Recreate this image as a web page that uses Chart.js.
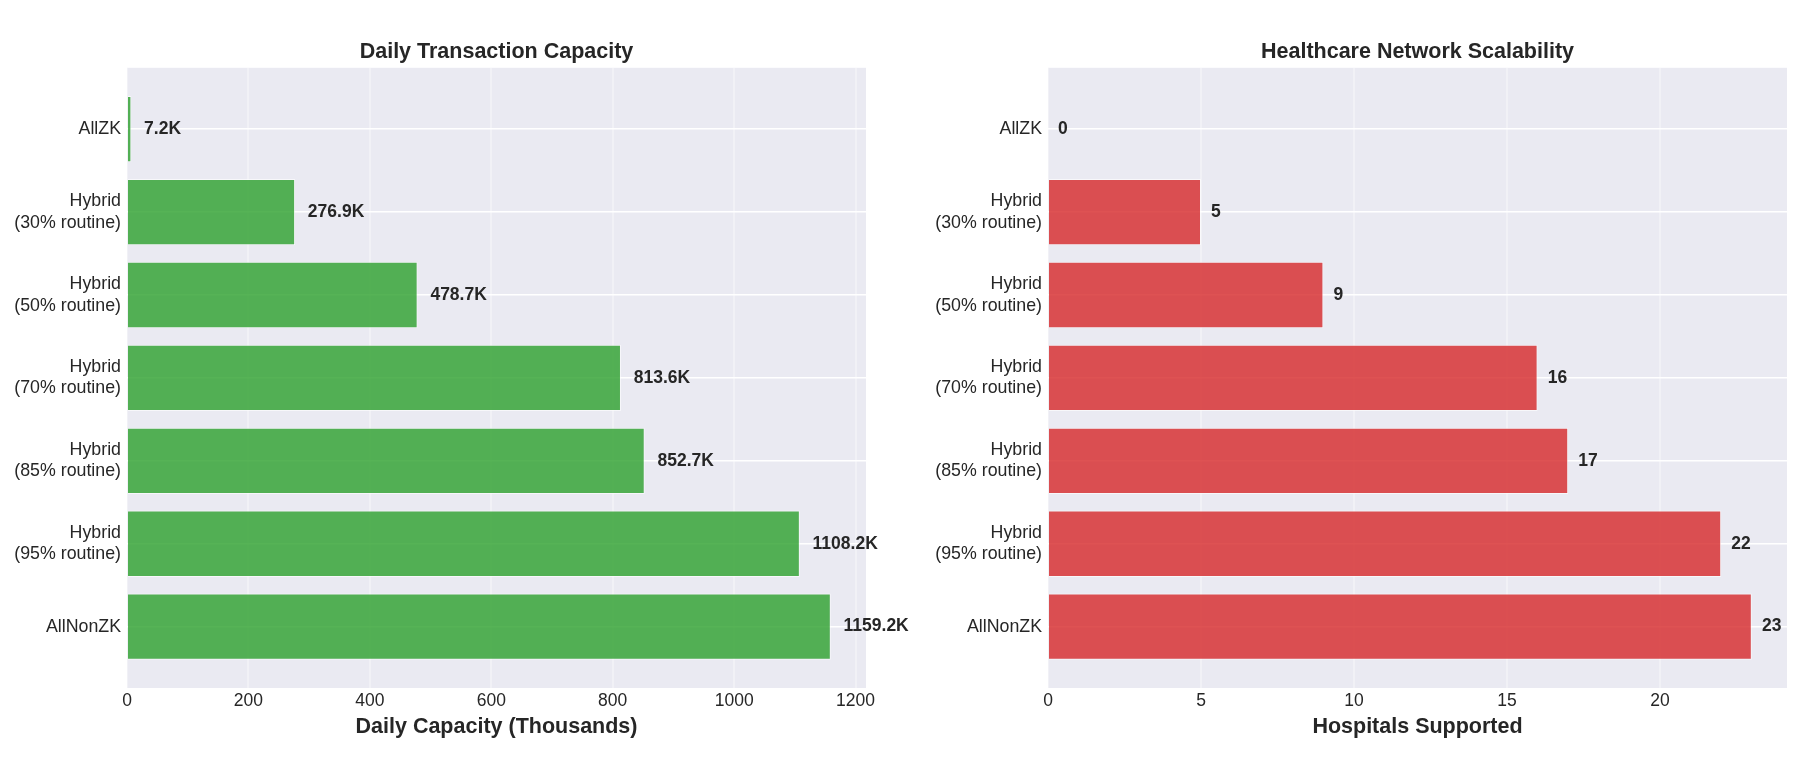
<!DOCTYPE html>
<html>
<head>
<meta charset="utf-8">
<script src="https://cdn.jsdelivr.net/npm/chart.js@4"></script>
<style>
  html, body { margin: 0; padding: 0; background: #fff; overflow: hidden; }
  #wrap { position: relative; width: 1808px; height: 758px; overflow: hidden; }
  .box { position: absolute; top: 0; height: 758px; }
</style>
</head>
<body>
<div id="wrap">
  <div class="box" style="left:0; width:993px"><canvas id="left"></canvas></div>
  <div class="box" style="left:904px; width:1027px"><canvas id="right"></canvas></div>
</div>
<script>
var categories = ["AllZK", "Hybrid\n(30% routine)", "Hybrid\n(50% routine)", "Hybrid\n(70% routine)",
                  "Hybrid\n(85% routine)", "Hybrid\n(95% routine)", "AllNonZK"];
var capacity = [7.2, 276.9, 478.7, 813.6, 852.7, 1108.2, 1159.2];
var hospitals = [0, 5, 9, 16, 17, 22, 23];
var capacityTicks = [0, 200, 400, 600, 800, 1000, 1200];
var hospitalTicks = [0, 5, 10, 15, 20];

var FONT = "'Liberation Sans', Arial, sans-serif";
var TEXT = "#262626";

// grey plot background like seaborn darkgrid
var bgPlugin = {
  id: "bg",
  beforeDraw: function (chart) {
    var a = chart.chartArea, ctx = chart.ctx;
    ctx.save();
    ctx.fillStyle = "#eaeaf2";
    ctx.fillRect(a.left, a.top, a.right - a.left, a.bottom - a.top);
    ctx.restore();
  }
};

// value text to the right of each bar
var valuePlugin = {
  id: "values",
  afterDatasetsDraw: function (chart, args, opts) {
    var ctx = chart.ctx;
    var xs = chart.scales.x;
    var meta = chart.getDatasetMeta(0);
    var vals = chart.data.datasets[0].data;
    ctx.save();
    ctx.font = "bold 17.5px " + FONT;
    ctx.fillStyle = TEXT;
    ctx.textAlign = "left";
    ctx.textBaseline = "middle";
    meta.data.forEach(function (bar, i) {
      var v = vals[i].x;
      ctx.fillText(opts.fmt(v), xs.getPixelForValue(v + opts.gap), bar.y);
    });
    ctx.restore();
  }
};

function makeChart(id, title, xTitle, values, ticks, color, yWidth, padRight, gap, fmt) {
  var maxv = Math.max.apply(null, values) * 1.05;
  return new Chart(document.getElementById(id), {
    type: "bar",
    data: {
      datasets: [{
        data: values.map(function (v, i) { return {x: v, y: i}; }),
        backgroundColor: color,
        borderColor: "rgba(255,255,255,0.6)",
        borderWidth: 1,
        barPercentage: 0.8,
        categoryPercentage: 1.0
      }]
    },
    options: {
      indexAxis: "y",
      responsive: true,
      maintainAspectRatio: false,
      animation: false,
      layout: {padding: {left: 0, right: padRight, top: 0, bottom: 0}},
      plugins: {
        legend: {display: false},
        tooltip: {enabled: false},
        title: {
          display: true,
          fullSize: false,
          text: title,
          color: TEXT,
          font: {family: FONT, size: 21.5, weight: "bold"},
          padding: {top: 39, bottom: 3}
        },
        values: {fmt: fmt, gap: gap}
      },
      scales: {
        x: {
          type: "linear",
          min: 0,
          max: maxv,
          afterBuildTicks: function (s) { s.ticks = ticks.map(function (v) { return {value: v}; }); },
          afterFit: function (s) { s.height = 70; },
          border: {display: false},
          grid: {color: "rgba(255,255,255,0.35)", lineWidth: 2, drawTicks: false},
          ticks: {
            color: TEXT,
            padding: 3,
            font: {family: FONT, size: 17.5},
            callback: function (v) { return String(v); }
          },
          title: {
            display: true,
            text: xTitle,
            color: TEXT,
            font: {family: FONT, size: 21.5, weight: "bold"},
            padding: {top: 0, bottom: 18}
          }
        },
        y: {
          type: "linear",
          reverse: true,
          offset: false,
          min: -0.74,
          max: categories.length - 1 + 0.74,
          afterBuildTicks: function (s) { s.ticks = categories.map(function (c, i) { return {value: i}; }); },
          afterFit: function (s) { s.width = yWidth; },
          border: {display: false},
          grid: {color: "#ffffff", lineWidth: 1.4, drawTicks: false, offset: false},
          ticks: {
            color: TEXT,
            padding: 6,
            autoSkip: false,
            font: {family: FONT, size: 17.8},
            callback: function (v) { return categories[v] ? categories[v].split("\n") : ""; }
          }
        }
      }
    },
    plugins: [bgPlugin, valuePlugin]
  });
}

makeChart("left", "Daily Transaction Capacity", "Daily Capacity (Thousands)", capacity, capacityTicks,
  "rgba(44,160,44,0.8)", 127, 127, 21, function (v) { return v.toFixed(1) + "K"; });
makeChart("right", "Healthcare Network Scalability", "Hospitals Supported", hospitals, hospitalTicks,
  "rgba(214,39,40,0.8)", 144, 144, 0.33, function (v) { return String(v); });
</script>
</body>
</html>
